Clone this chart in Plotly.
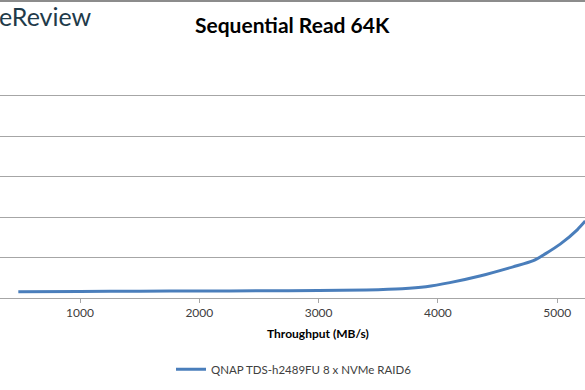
import plotly.graph_objects as go

throughput = [483, 1000, 1500, 2000, 2500, 3000, 3400, 3700, 3900, 4100, 4360, 4630, 4800, 4900, 5025, 5170, 5235]
latency = [0.153, 0.163, 0.168, 0.173, 0.178, 0.185, 0.20, 0.23, 0.28, 0.38, 0.55, 0.77, 0.92, 1.09, 1.33, 1.69, 1.90]
series_name = "QNAP TDS-h2489FU 8 x NVMe RAID6"
x_ticks = [1000, 2000, 3000, 4000, 5000]

W, H = 585, 390
PH = 390 - 55 - 92
fig = go.Figure()
fig.add_trace(go.Scatter(
    x=throughput, y=latency, mode="lines", name=series_name,
    line=dict(color="#4a7ebb", width=3, shape="spline", smoothing=0.7),
))

fig.update_layout(
    width=W, height=H,
    margin=dict(l=0, r=0, t=55, b=92, autoexpand=False),
    paper_bgcolor="white", plot_bgcolor="white",
    font=dict(family="Lato, Open Sans, sans-serif", color="#404040", size=12),
    showlegend=True,
    legend=dict(orientation="h", x=171/W, xanchor="left", y=-(369-297.7)/PH, yanchor="middle",
                font=dict(size=11.5, color="#404040"), itemwidth=30),
    xaxis=dict(range=[329.4, 5233], tickvals=x_ticks, ticktext=[str(v) for v in x_ticks],
               showgrid=False, zeroline=False, showline=True, linecolor="#a6a6a6", linewidth=1,
               ticks="outside", ticklen=4, tickcolor="#a6a6a6", tickfont=dict(size=12, color="#404040"),
               automargin=False),
    yaxis=dict(range=[0, 6], dtick=1, showgrid=True, gridcolor="#a6a6a6", gridwidth=1,
               zeroline=False, showline=False, showticklabels=False, ticks="", automargin=False),
    annotations=[
        dict(text="<b>Sequential Read 64K</b>", x=292/W, y=1 + (55-24)/PH, xref="paper", yref="paper",
             yanchor="middle", showarrow=False, font=dict(size=21, color="black", family="Lato, sans-serif")),
        dict(text="<b>Throughput (MB/s)</b>", x=318/W, y=-(333-297.7)/PH, xref="paper", yref="paper",
             yanchor="middle", showarrow=False, font=dict(size=12, color="black")),
        dict(text="eReview", x=0, xanchor="left", y=1 + (55-16)/PH, xref="paper", yref="paper",
             yanchor="middle", showarrow=False, xshift=-3,
             font=dict(size=25, color="#1f3b4a", family="Lato, sans-serif")),
    ],
    shapes=[dict(type="rect", xref="paper", yref="paper", x0=0, x1=1, y0=1 + 53/PH, y1=1 + 55/PH,
                 line=dict(width=0), fillcolor="#8c8c8c")],
)

fig.write_html("out.html", config={"displayModeBar": False},
               post_script="document.body.style.margin='0';document.body.style.overflow='hidden';")
